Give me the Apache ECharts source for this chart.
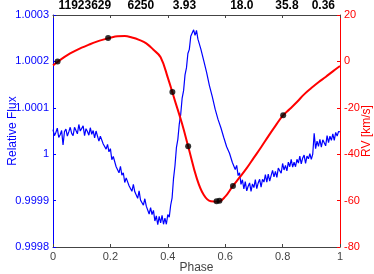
<!DOCTYPE html>
<html>
<head>
<meta charset="utf-8">
<style>
  html, body { margin: 0; padding: 0; background: #fff; }
  #main { width: 374px; height: 274px; }
</style>
<script src="https://cdn.jsdelivr.net/npm/echarts@6/dist/echarts.min.js"></script>
</head>
<body>
<div id="main"></div>
<script>
// light curve (relative flux vs phase)
var fluxPhase = [
  0.000, 0.005, 0.010, 0.015, 0.020, 0.025, 0.030, 0.035, 0.040, 0.045,
  0.050, 0.055, 0.060, 0.065, 0.070, 0.075, 0.080, 0.085, 0.090, 0.095,
  0.100, 0.105, 0.110, 0.115, 0.120, 0.125, 0.130, 0.135, 0.140, 0.145,
  0.150, 0.155, 0.160, 0.165, 0.170, 0.175, 0.180, 0.185, 0.190, 0.195,
  0.200, 0.205, 0.210, 0.215, 0.220, 0.225, 0.230, 0.235, 0.240, 0.245,
  0.250, 0.255, 0.260, 0.265, 0.270, 0.275, 0.280, 0.285, 0.290, 0.295,
  0.300, 0.305, 0.310, 0.315, 0.320, 0.325, 0.330, 0.335, 0.340, 0.345,
  0.350, 0.355, 0.360, 0.365, 0.370, 0.375, 0.380, 0.385, 0.390, 0.395,
  0.400, 0.405, 0.410, 0.415, 0.420, 0.425, 0.430, 0.435, 0.440, 0.445,
  0.450, 0.455, 0.460, 0.465, 0.470, 0.475, 0.480, 0.485, 0.490, 0.495,
  0.500, 0.505, 0.510, 0.515, 0.520, 0.525, 0.530, 0.535, 0.540, 0.545,
  0.550, 0.555, 0.560, 0.565, 0.570, 0.575, 0.580, 0.585, 0.590, 0.595,
  0.600, 0.605, 0.610, 0.615, 0.620, 0.625, 0.630, 0.635, 0.640, 0.645,
  0.650, 0.655, 0.660, 0.665, 0.670, 0.675, 0.680, 0.685, 0.690, 0.695,
  0.700, 0.705, 0.710, 0.715, 0.720, 0.725, 0.730, 0.735, 0.740, 0.745,
  0.750, 0.755, 0.760, 0.765, 0.770, 0.775, 0.780, 0.785, 0.790, 0.795,
  0.800, 0.805, 0.810, 0.815, 0.820, 0.825, 0.830, 0.835, 0.840, 0.845,
  0.850, 0.855, 0.860, 0.865, 0.870, 0.875, 0.880, 0.885, 0.890, 0.895,
  0.900, 0.905, 0.910, 0.915, 0.920, 0.925, 0.930, 0.935, 0.940, 0.945,
  0.950, 0.955, 0.960, 0.965, 0.970, 0.975, 0.980, 0.985, 0.990, 0.995,
  1.000
];
var fluxValue = [
  1.000053, 1.000040, 1.000047, 1.000056, 1.000036, 1.000042, 1.000051, 1.000020, 1.000049, 1.000054,
  1.000039, 1.000048, 1.000058, 1.000045, 1.000040, 1.000058, 1.000055, 1.000044, 1.000064, 1.000050,
  1.000046, 1.000061, 1.000040, 1.000055, 1.000049, 1.000041, 1.000057, 1.000043, 1.000051, 1.000035,
  1.000050, 1.000039, 1.000028, 1.000039, 1.000043, 1.000022, 1.000026, 1.000011, 1.000021, 1.000005,
  1.000012, 0.999988, 0.999995, 0.999995, 0.999973, 0.999975, 0.999960, 0.999974, 0.999955, 0.999960,
  0.999939, 0.999949, 0.999950, 0.999932, 0.999936, 0.999920, 0.999935, 0.999919, 0.999923, 0.999905,
  0.999921, 0.999901, 0.999904, 0.999890, 0.999904, 0.999888, 0.999892, 0.999871, 0.999885, 0.999870,
  0.999879, 0.999856, 0.999867, 0.999848, 0.999866, 0.999852, 0.999868, 0.999849, 0.999862, 0.999849,
  0.999870, 0.999864, 0.999890, 0.999906, 0.999948, 0.999975, 1.000014, 1.000032, 1.000065, 1.000086,
  1.000121, 1.000137, 1.000171, 1.000186, 1.000217, 1.000226, 1.000254, 1.000252, 1.000268, 1.000256,
  1.000267, 1.000248, 1.000248, 1.000227, 1.000224, 1.000202, 1.000202, 1.000177, 1.000174, 1.000148,
  1.000147, 1.000124, 1.000122, 1.000097, 1.000097, 1.000075, 1.000078, 1.000057, 1.000060, 1.000036,
  1.000040, 1.000016, 1.000020, 1.000002, 1.000006, 0.999982, 0.999986, 0.999967, 0.999976, 0.999954,
  0.999960, 0.999935, 0.999945, 0.999925, 0.999941, 0.999921, 0.999931, 0.999938, 0.999920, 0.999936,
  0.999928, 0.999945, 0.999926, 0.999938, 0.999946, 0.999929, 0.999946, 0.999940, 0.999956, 0.999940,
  0.999957, 0.999942, 0.999954, 0.999965, 0.999951, 0.999963, 0.999950, 0.999970, 0.999967, 0.999959,
  0.999980, 0.999966, 0.999976, 0.999964, 0.999983, 0.999973, 0.999989, 0.999972, 0.999983, 0.999973,
  0.999989, 0.999981, 0.999996, 0.999979, 0.999992, 0.999998, 0.999980, 0.999996, 0.999990, 1.000001,
  0.999989, 1.000000, 1.000045, 1.000012, 1.000028, 1.000017, 1.000032, 1.000015, 1.000031, 1.000027,
  1.000018, 1.000040, 1.000025, 1.000039, 1.000030, 1.000044, 1.000030, 1.000047, 1.000039, 1.000049,
  1.000048
];

// radial velocity model curve (km/s)
var rvPhase = [
  0.000, 0.025, 0.050, 0.075, 0.100, 0.125, 0.150, 0.175, 0.200, 0.225,
  0.250, 0.275, 0.300, 0.325, 0.350, 0.375, 0.400, 0.425, 0.450, 0.475,
  0.500, 0.525, 0.550, 0.575, 0.600, 0.625, 0.650, 0.675, 0.700, 0.725,
  0.750, 0.775, 0.800, 0.825, 0.850, 0.875, 0.900, 0.925, 0.950, 0.975,
  1.000
];
var rvModel = [
  -1.7, 0.6, 2.7, 4.4, 5.9, 7.2, 8.4, 9.4, 10.2, 10.8,
  10.9, 10.3, 9.3, 7.8, 5.0, 1.8, -7.0, -17.0, -27.0, -38.5,
  -50.0, -57.5, -60.3, -60.5, -58.3, -54.0, -50.0, -46.0, -41.5, -37.0,
  -32.3, -27.8, -23.5, -20.5, -17.5, -14.2, -11.5, -9.0, -6.7, -4.3,
  -2.0
];

// measured radial velocities
var rvObsPhase = [0.016, 0.192, 0.416, 0.471, 0.570, 0.580, 0.627, 0.802];
var rvObs = [0.0, 10.1, -13.2, -36.6, -60.3, -60.1, -53.7, -23.2];

// labels along the top edge
var topLabels = ["11923629", "6250", "3.93", "18.0", "35.8", "0.36"];
var topLabelPhase = [0.111, 0.306, 0.458, 0.658, 0.815, 0.942];

function pairs(xs, ys) {
  return xs.map(function (x, i) { return [x, ys[i]]; });
}

var FONT = "Liberation Sans";
var myChart = echarts.init(document.getElementById("main"));

myChart.setOption({
  animation: false,
  textStyle: { fontFamily: FONT },
  grid: { left: 53, right: 34, top: 15, bottom: 27, outerBoundsMode: "none", containLabel: false },
  xAxis: [
    {
      type: "value",
      min: 0,
      max: 1,
      interval: 0.2,
      position: "bottom",
      name: "Phase",
      nameLocation: "middle",
      nameGap: 15,
      nameMoveOverlap: false,
      nameTextStyle: { color: "#444", fontSize: 12, fontFamily: FONT },
      axisLine: { onZero: false, lineStyle: { color: "#444", width: 1 } },
      axisTick: { inside: true, length: 3, lineStyle: { color: "#444" } },
      axisLabel: {
        color: "#444",
        fontSize: 11,
        margin: 4,
        formatter: function (v) { return String(parseFloat(v.toFixed(1))); }
      },
      splitLine: { show: false }
    },
    {
      type: "value",
      min: 0,
      max: 1,
      interval: 0.2,
      position: "top",
      axisLine: { onZero: false, lineStyle: { color: "#444", width: 1 } },
      axisTick: { inside: true, length: 3, lineStyle: { color: "#444" } },
      axisLabel: { show: false },
      splitLine: { show: false }
    }
  ],
  yAxis: [
    {
      type: "value",
      min: 0.9998,
      max: 1.0003,
      interval: 0.0001,
      position: "left",
      name: "Relative Flux",
      nameLocation: "middle",
      nameRotate: 90,
      nameGap: 34,
      nameMoveOverlap: false,
      nameTextStyle: { color: "#0000ff", fontSize: 12, fontFamily: FONT },
      axisLine: { onZero: false, lineStyle: { color: "#0000ff", width: 1 } },
      axisTick: { inside: true, length: 3, lineStyle: { color: "#0000ff" } },
      axisLabel: {
        color: "#0000ff",
        fontSize: 11,
        margin: 4,
        formatter: function (v) { return String(parseFloat(v.toFixed(4))); }
      },
      splitLine: { show: false }
    },
    {
      type: "value",
      min: -80,
      max: 20,
      interval: 20,
      position: "right",
      name: "RV [km/s]",
      nameLocation: "middle",
      nameRotate: 90,
      nameGap: 21,
      nameMoveOverlap: false,
      nameTextStyle: { color: "#ff0000", fontSize: 12, fontFamily: FONT },
      axisLine: { onZero: false, lineStyle: { color: "#ff0000", width: 1 } },
      axisTick: { inside: true, length: 3, lineStyle: { color: "#ff0000" } },
      axisLabel: { color: "#ff0000", fontSize: 11, margin: 4 },
      splitLine: { show: false }
    }
  ],
  series: [
    {
      name: "Flux",
      type: "line",
      xAxisIndex: 0,
      yAxisIndex: 0,
      showSymbol: false,
      lineStyle: { color: "#0000ff", width: 1.2 },
      data: pairs(fluxPhase, fluxValue),
      z: 2
    },
    {
      name: "RV model",
      type: "line",
      xAxisIndex: 0,
      yAxisIndex: 1,
      smooth: 0.4,
      showSymbol: false,
      lineStyle: { color: "#ff0000", width: 2 },
      data: pairs(rvPhase, rvModel),
      z: 3
    },
    {
      name: "RV",
      type: "scatter",
      xAxisIndex: 0,
      yAxisIndex: 1,
      symbolSize: 6,
      itemStyle: { color: "#000" },
      data: pairs(rvObsPhase, rvObs),
      z: 4
    }
  ]
});

// top labels placed at their phase positions
var graphics = topLabels.map(function (t, i) {
  var x = myChart.convertToPixel({ xAxisIndex: 0 }, topLabelPhase[i]);
  return {
    type: "text",
    x: x,
    y: 6,
    style: {
      text: t,
      fill: "#000",
      font: "bold 12px " + FONT,
      textAlign: "center",
      textVerticalAlign: "middle"
    }
  };
});
myChart.setOption({ graphic: graphics });
</script>
</body>
</html>
